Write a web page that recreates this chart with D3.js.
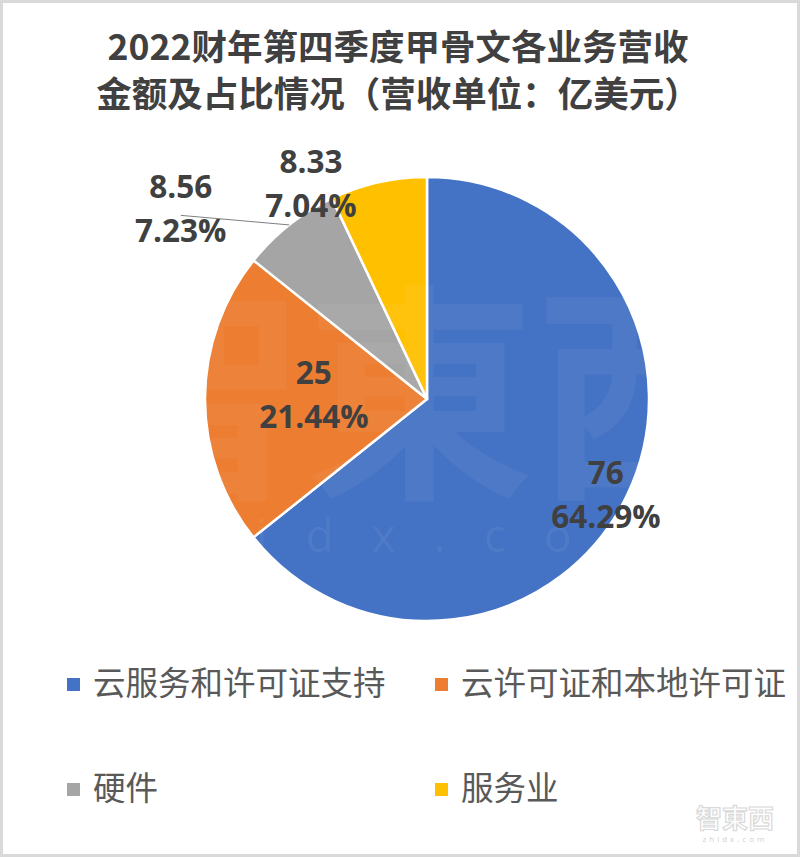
<!DOCTYPE html>
<html>
<head>
<meta charset="utf-8">
<script src="https://cdn.jsdelivr.net/npm/d3@7"></script>
<style>
  html, body { margin: 0; padding: 0; background: #fff; }
  svg { display: block; }
</style>
</head>
<body>
<svg id="chart" width="800" height="857"></svg>
<script>
// ---------- data ----------
const titleLines = ["2022财年第四季度甲骨文各业务营收", "金额及占比情况（营收单位：亿美元）"];
const categories = ["云服务和许可证支持", "云许可证和本地许可证", "硬件", "服务业"];
const revenues   = ["76", "25", "8.56", "8.33"];
const shares     = [64.29, 21.44, 7.23, 7.04];
const colors     = ["#4472C4", "#ED7D31", "#A5A5A5", "#FFC000"];

// ---------- layout ----------
const W = 800, H = 857;
const cx = 427, cy = 399, R = 222;
const svg = d3.select("#chart");

svg.append("rect").attr("x", 1.5).attr("y", 1.5).attr("width", W - 3).attr("height", H - 3)
  .attr("fill", "#fff").attr("stroke", "#d9d9d9").attr("stroke-width", 3);

// title
const title = svg.append("text")
  .attr("text-anchor", "middle")
  .attr("font-family", "'Noto Sans CJK SC', sans-serif")
  .attr("font-weight", "bold")
  .attr("font-size", 35.5)
  .attr("fill", "#404040");
titleLines.forEach((t, i) => {
  title.append("tspan").attr("x", 398).attr("y", 59.5 + i * 47).text(t);
});

// pie
const data = categories.map((c, i) => ({ name: c, value: shares[i], rev: revenues[i], pct: shares[i].toFixed(2) + "%", color: colors[i] }));
const pie = d3.pie().value(d => d.value).sort(null);
const arcs = pie(data);
const arc = d3.arc().innerRadius(0).outerRadius(R);

const g = svg.append("g").attr("transform", `translate(${cx},${cy})`);
g.selectAll("path.slice").data(arcs).join("path")
  .attr("class", "slice")
  .attr("d", arc)
  .attr("fill", d => d.data.color)
  .attr("stroke", "#fff")
  .attr("stroke-width", 2.5)
  .attr("stroke-linejoin", "round");

// watermark (faint)
const wm = svg.append("g").attr("pointer-events", "none");
wm.append("text").attr("x", 420).attr("y", 480).attr("text-anchor", "middle")
  .attr("font-family", "'Noto Sans CJK SC', sans-serif").attr("font-size", 230).attr("font-weight", "bold")
  .attr("fill", "#ffffff").attr("fill-opacity", 0.05).text("智東西");
wm.append("text").attr("x", 410).attr("y", 552).attr("text-anchor", "middle")
  .attr("font-family", "'Open Sans', sans-serif").attr("font-size", 46).attr("letter-spacing", 38)
  .attr("fill", "#ffffff").attr("fill-opacity", 0.07).text("zhidx.com");

// label placement: polar offsets from slice mid-angle
const labelSpec = [
  { r: 0.915 * R, shift: 0.045, outside: false },
  { r: 0.51 * R, shift: 0.035, outside: false },
  { r: 1.40 * R, shift: -0.245, outside: true },
  { r: 1.10 * R, shift: -0.274, outside: false }
];
const labelG = svg.append("g").attr("transform", `translate(${cx},${cy})`);
arcs.forEach((a, i) => {
  const spec = labelSpec[i];
  const am = (a.startAngle + a.endAngle) / 2;
  const mid = am + spec.shift;
  const lx = Math.sin(mid) * spec.r, ly = -Math.cos(mid) * spec.r;
  if (spec.outside) {
    labelG.append("line")
      .attr("x1", Math.sin(am) * R).attr("y1", -Math.cos(am) * R)
      .attr("x2", lx).attr("y2", ly + 6)
      .attr("stroke", "#7f7f7f").attr("stroke-width", 1);
  }
  const t = labelG.append("text")
    .attr("text-anchor", "middle")
    .attr("font-family", "'Open Sans', 'Noto Sans CJK SC', sans-serif")
    .attr("font-weight", "bold")
    .attr("font-size", 31.5)
    .attr("fill", "#404040");
  t.append("tspan").attr("x", lx).attr("y", ly - 22).attr("dy", "0.35em").text(a.data.rev);
  t.append("tspan").attr("x", lx).attr("y", ly + 22).attr("dy", "0.35em").text(a.data.pct);
});

// legend
const legCols = [67, 435], legRows = [684, 789];
const leg = svg.append("g");
data.forEach((d, i) => {
  const x = legCols[i % 2], y = legRows[Math.floor(i / 2)];
  leg.append("rect").attr("x", x).attr("y", y - 6).attr("width", 13).attr("height", 13).attr("fill", d.color);
  leg.append("text").attr("x", x + 26).attr("y", y).attr("dy", "0.35em")
    .attr("font-family", "'Noto Sans CJK SC', sans-serif").attr("font-size", 32.5)
    .attr("fill", "#595959").text(d.name);
});

// small logo bottom-right
svg.append("text").attr("x", 735).attr("y", 828).attr("text-anchor", "middle")
  .attr("font-family", "'Noto Sans CJK SC', sans-serif").attr("font-size", 26).attr("font-weight", "bold")
  .attr("fill", "#fff").attr("stroke", "#d9d9d9").attr("stroke-width", 1.2).text("智東西");
svg.append("text").attr("x", 735).attr("y", 842).attr("text-anchor", "middle")
  .attr("font-family", "'Open Sans', sans-serif").attr("font-size", 8).attr("letter-spacing", 3)
  .attr("fill", "#d0d0d0").text("zhidx.com");
</script>
</body>
</html>
